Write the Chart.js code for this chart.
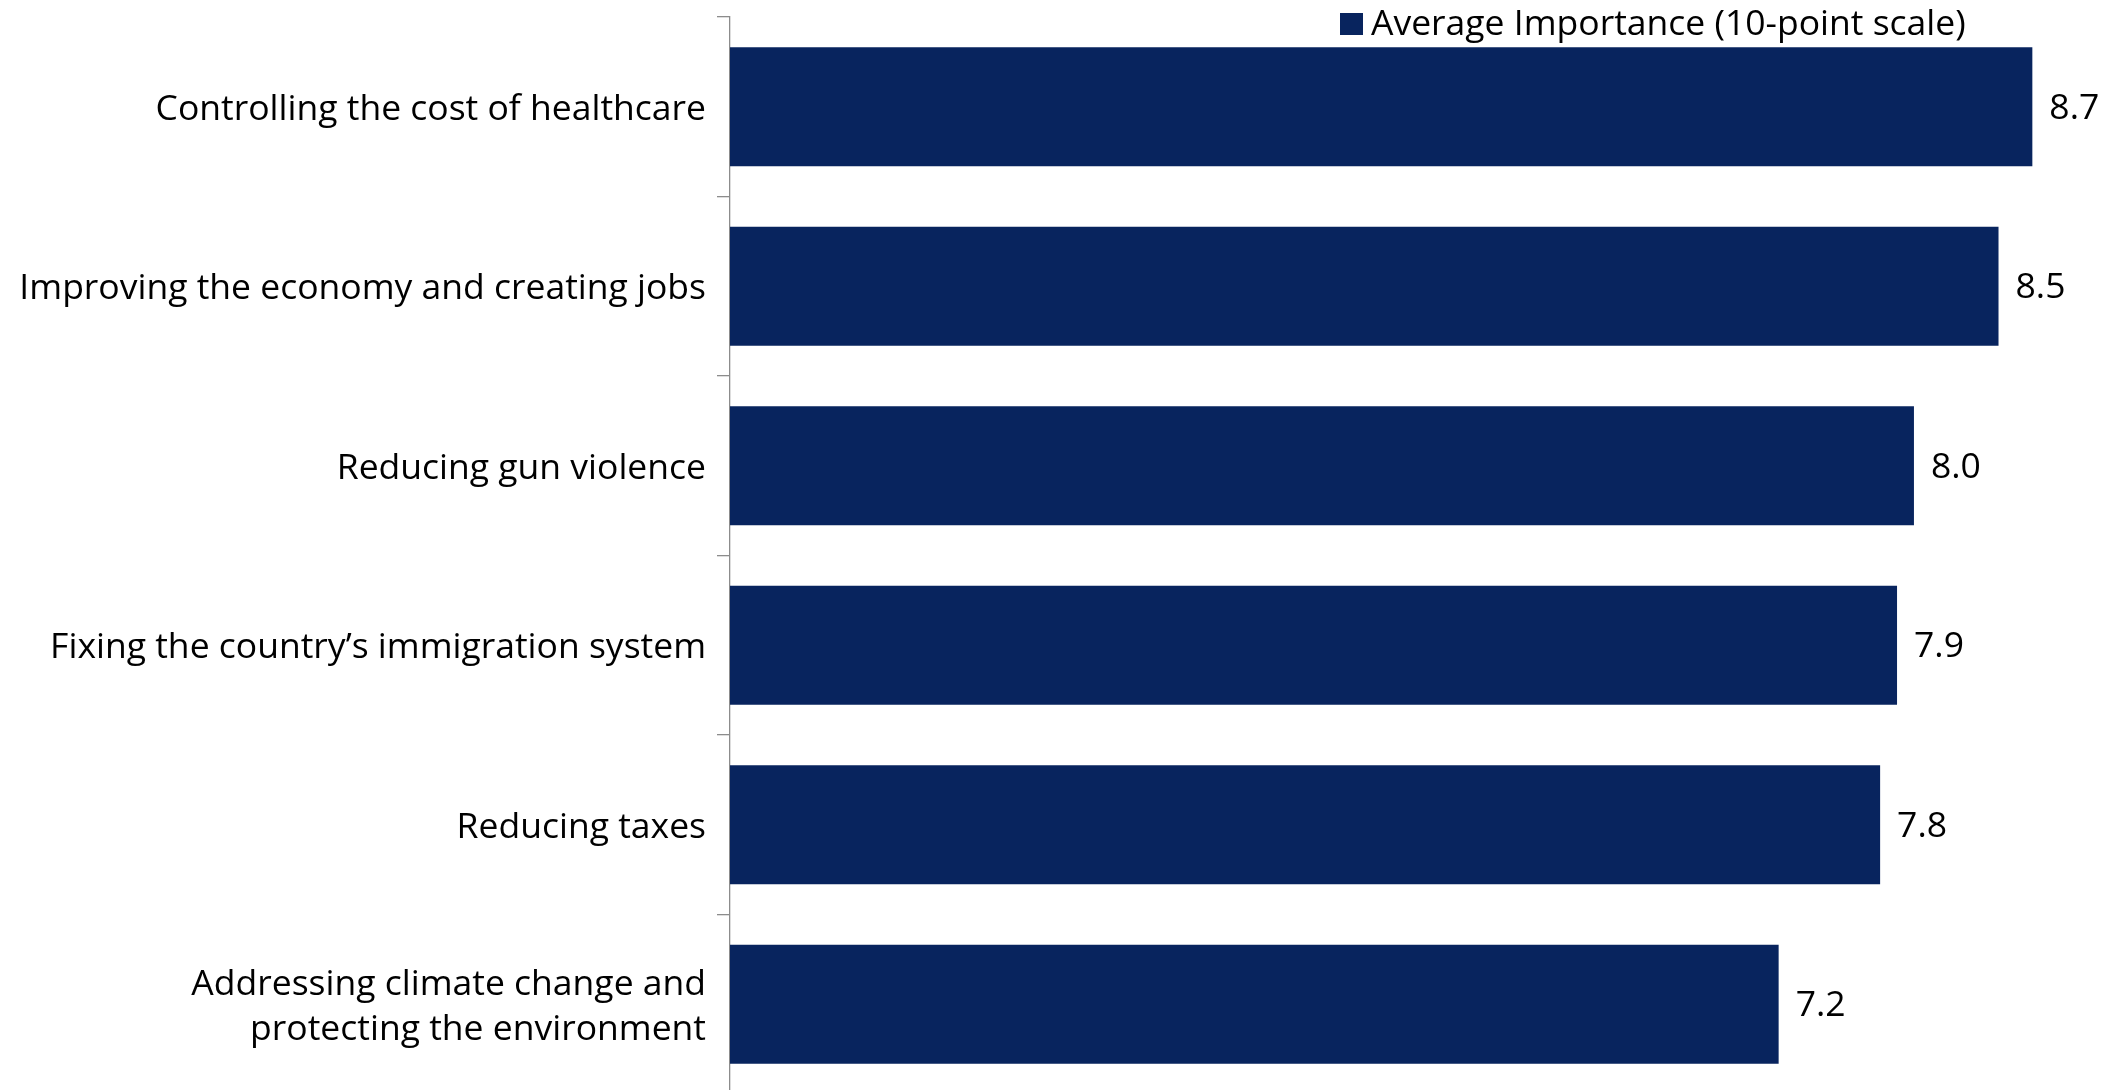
<!DOCTYPE html>
<html>
<head>
<meta charset="utf-8">
<script src="https://cdn.jsdelivr.net/npm/chart.js@4.4.1/dist/chart.umd.min.js"></script>
<style>
    html, body { margin: 0; padding: 0; background: #fff; overflow: hidden; }
    #wrap { position: relative; width: 2114px; height: 1094px; }
</style>
</head>
<body>
<div id="wrap"><canvas id="importanceChart"></canvas></div>
<script>
    // Issues and their average importance score
    const issues = [
        'Controlling the cost of healthcare',
        'Improving the economy and creating jobs',
        'Reducing gun violence',
        'Fixing the country\u2019s immigration system',
        'Reducing taxes',
        ['Addressing climate change and', 'protecting the environment']
    ];
    const avgImportance = [8.7, 8.5, 8.0, 7.9, 7.8, 7.2];
    const seriesLabel = 'Average Importance (10-point scale)';

    const barColor = '#08245E';
    const axisGrey = '#8c8c8c';
    const fontFamily = '"Open Sans", sans-serif';
    const fontSize = 35.5;

    // Value labels at the end of each bar
    const valueLabels = {
        id: 'valueLabels',
        afterDatasetsDraw(chart) {
            const ctx = chart.ctx;
            const meta = chart.getDatasetMeta(0);
            ctx.save();
            ctx.font = fontSize + 'px ' + fontFamily;
            ctx.fillStyle = '#000';
            ctx.textAlign = 'left';
            ctx.textBaseline = 'middle';
            meta.data.forEach((bar, i) => {
                ctx.fillText(avgImportance[i].toFixed(1), bar.x + 17, bar.y + 2);
            });
            ctx.restore();
        }
    };

    // Legend sits inside the plot, top right
    const insideLegend = {
        id: 'insideLegend',
        afterDraw(chart) {
            const ctx = chart.ctx;
            ctx.save();
            ctx.font = fontSize + 'px ' + fontFamily;
            const x = 1340, y = 13;
            ctx.fillStyle = barColor;
            ctx.fillRect(x, y, 23, 22);
            ctx.fillStyle = '#000';
            ctx.textAlign = 'left';
            ctx.textBaseline = 'middle';
            ctx.fillText(seriesLabel, x + 31, y + 12);
            ctx.restore();
        }
    };

    new Chart(document.getElementById('importanceChart'), {
        type: 'bar',
        data: {
            labels: issues,
            datasets: [{
                label: seriesLabel,
                data: avgImportance,
                backgroundColor: barColor,
                barPercentage: 0.663,
                categoryPercentage: 1.0
            }]
        },
        options: {
            indexAxis: 'y',
            responsive: true,
            maintainAspectRatio: false,
            animation: false,
            layout: { padding: { top: 17, right: 14, bottom: 0, left: 0 } },
            plugins: {
                legend: { display: false },
                tooltip: { enabled: false }
            },
            scales: {
                x: {
                    display: false,
                    min: 1,
                    max: 9.1
                },
                y: {
                    // fixed axis position, no extra room for the edge labels
                    afterFit: function(scale) {
                        scale.width = 730;
                        scale.paddingTop = 0;
                        scale.paddingBottom = 0;
                    },
                    grid: {
                        drawOnChartArea: false,
                        drawTicks: true,
                        tickLength: 13,
                        color: axisGrey,
                        lineWidth: 1.3
                    },
                    border: { display: true, color: axisGrey, width: 1.3 },
                    ticks: {
                        color: '#000',
                        padding: 11,
                        labelOffset: 3,
                        font: { family: fontFamily, size: fontSize, lineHeight: 1.27 }
                    }
                }
            }
        },
        plugins: [valueLabels, insideLegend]
    });
</script>
</body>
</html>
